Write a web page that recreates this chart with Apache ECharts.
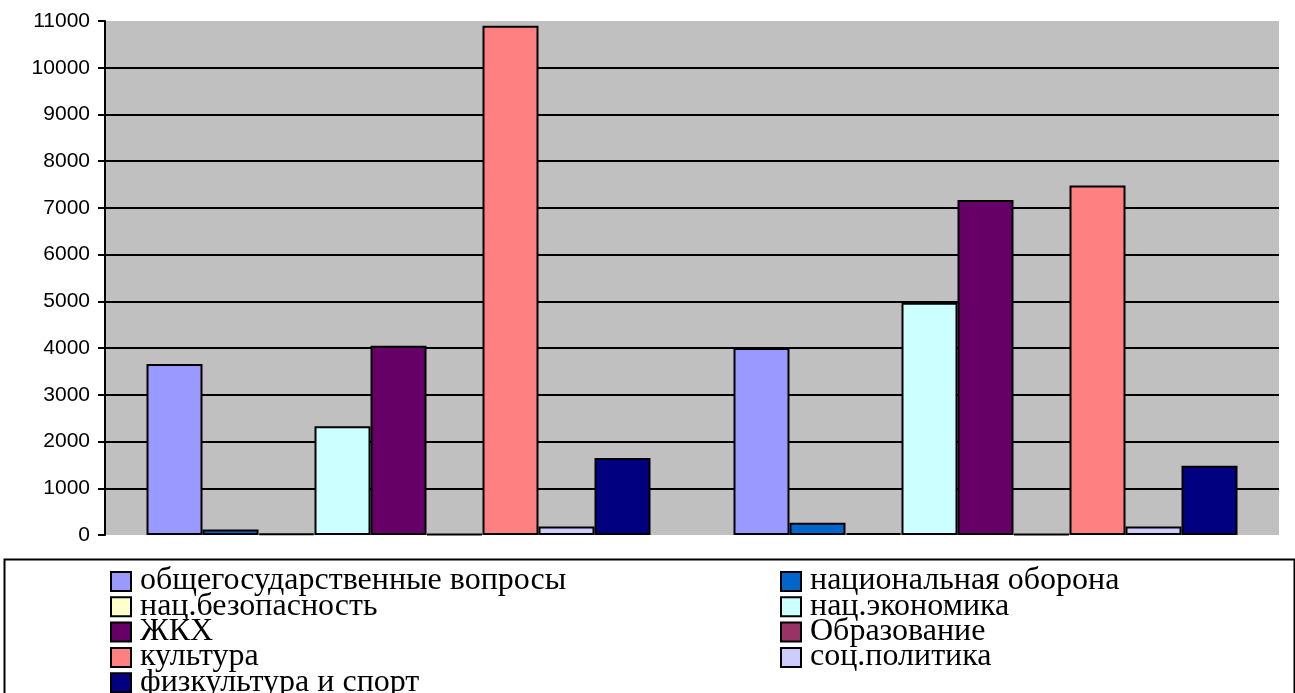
<!DOCTYPE html>
<html>
<head>
<meta charset="utf-8">
<script src="https://cdn.jsdelivr.net/npm/echarts@6/dist/echarts.min.js"></script>
<style>html,body{margin:0;padding:0;background:#fff;}#c{width:1295px;height:693px;}</style>
</head>
<body>
<div id="c"></div>
<script>
const categories = ['Период 1', 'Период 2'];
const seriesNames = [
  'общегосударственные вопросы', 'национальная оборона', 'нац.безопасность',
  'нац.экономика', 'ЖКХ', 'Образование', 'культура', 'соц.политика', 'физкультура и спорт'
];
const seriesColors = ['#9999FF', '#0066CC', '#FFFFCC', '#CCFFFF', '#660066', '#993366', '#FF8080', '#CCCCFF', '#000080'];
const obshchegos = [3660, 4000];
const oborona = [120, 260];
const bezopasnost = [30, 40];
const ekonomika = [2330, 4970];
const zhkh = [4050, 7170];
const obrazovanie = [20, 20];
const kultura = [10900, 7480];
const socpolitika = [180, 180];
const fizkultura = [1650, 1480];
const seriesValues = [obshchegos, oborona, bezopasnost, ekonomika, zhkh, obrazovanie, kultura, socpolitika, fizkultura];
const yTicks = [0, 1000, 2000, 3000, 4000, 5000, 6000, 7000, 8000, 9000, 10000, 11000];

// legend layout: two columns, items read row by row
const legendCols = [111, 781];
const legendRow0 = 581;
const legendRowStep = 25.3;

const legendGraphics = [{
  type: 'rect', left: 2, top: 557, shape: {width: 1290, height: 150},
  style: {fill: 'none', stroke: '#000', lineWidth: 2}, z: 0
}];
seriesNames.forEach((name, i) => {
  const col = i % 2, row = Math.floor(i / 2);
  const x = legendCols[col], yc = legendRow0 + row * legendRowStep;
  legendGraphics.push({
    type: 'rect', x: x, y: yc - 9, shape: {width: 20, height: 19},
    style: {fill: seriesColors[i], stroke: '#000', lineWidth: 2}, z: 10
  });
  legendGraphics.push({
    type: 'text', x: x + 29, y: yc,
    style: {text: name, fill: '#000', font: '32px "Liberation Serif"', verticalAlign: 'middle', align: 'left'}, z: 10
  });
});

const chart = echarts.init(document.getElementById('c'), null, {renderer: 'canvas'});
const splitColors = yTicks.map((t, i) => (i === 0 || i === yTicks.length - 1) ? 'rgba(0,0,0,0)' : '#000');
chart.setOption({
  animation: false,
  backgroundColor: '#fff',
  graphic: legendGraphics,
  grid: {left: 105, right: 16, top: 21, bottom: 158, backgroundColor: '#C0C0C0', show: true, borderWidth: 0},
  xAxis: {
    type: 'category', data: categories,
    axisLine: {show: false}, axisTick: {show: false}, axisLabel: {show: false}
  },
  yAxis: {
    type: 'value', min: 0, max: 11000, interval: 1000,
    axisLine: {show: true, lineStyle: {color: '#000', width: 2}},
    axisTick: {show: true, length: 7, lineStyle: {color: '#000', width: 2}},
    axisLabel: {margin: 15, fontFamily: 'Liberation Sans', fontSize: 21, color: '#000', formatter: v => String(v)},
    splitLine: {show: true, lineStyle: {color: splitColors, width: 2}}
  },
  series: seriesNames.map((name, i) => ({
    name: name, type: 'bar', data: seriesValues[i],
    barWidth: 56, barGap: '0%',
    itemStyle: {color: seriesColors[i], borderColor: '#000', borderWidth: 2}
  }))
});
</script>
</body>
</html>
